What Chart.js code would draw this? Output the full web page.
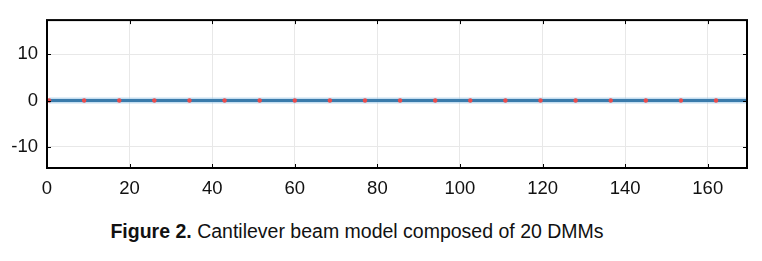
<!DOCTYPE html>
<html>
<head>
<meta charset="utf-8">
<script src="https://cdn.jsdelivr.net/npm/chart.js@4"></script>
<style>
  body { margin: 0; background: #fff; }
  #wrap { position: relative; width: 762px; height: 200px; }
  #caption {
    position: absolute; top: 220px; left: 0; width: 714px; text-align: center;
    font-family: "Liberation Sans", Arial, sans-serif; font-size: 19.5px; color: #111;
  }
</style>
</head>
<body>
<div id="wrap"><canvas id="beamChart" width="762" height="200"></canvas></div>
<div id="caption"><b>Figure 2.</b> Cantilever beam model composed of 20 DMMs</div>
<script>
// node positions along the beam (21 nodes -> 20 DMM elements)
const nodeX = [0.5, 9, 17.5, 26, 34.5, 43, 51.5, 60, 68.5, 77, 85.5, 94, 102.5, 111, 119.5, 128, 136.5, 145, 153.5, 162, 170.5];
// deflection at each node
const nodeY = [0, 0, 0, 0, 0, 0, 0, 0, 0, 0, 0, 0, 0, 0, 0, 0, 0, 0, 0, 0, 0];
const xTicks = [0, 20, 40, 60, 80, 100, 120, 140, 160];
const yTicks = [-10, 0, 10];

const points = nodeX.map((x, i) => ({ x: x, y: nodeY[i] }));

// black frame around the plot plus small inward tick marks
const framePlugin = {
    id: 'frame',
    afterDraw(chart) {
        const { ctx, chartArea: a, scales } = chart;
        ctx.save();
        ctx.strokeStyle = '#000';
        ctx.lineWidth = 1;
        xTicks.forEach(v => {
            const px = Math.round(scales.x.getPixelForValue(v)) + 0.5;
            ctx.beginPath();
            ctx.moveTo(px, a.bottom); ctx.lineTo(px, a.bottom - 4);
            ctx.moveTo(px, a.top); ctx.lineTo(px, a.top + 4);
            ctx.stroke();
        });
        yTicks.forEach(v => {
            const py = Math.round(scales.y.getPixelForValue(v)) + 0.5;
            ctx.beginPath();
            ctx.moveTo(a.left, py); ctx.lineTo(a.left + 4, py);
            ctx.moveTo(a.right, py); ctx.lineTo(a.right - 4, py);
            ctx.stroke();
        });
        ctx.lineWidth = 2;
        ctx.strokeRect(a.left, a.top, a.right - a.left, a.bottom - a.top);
        ctx.restore();
    }
};

const tickFont = { family: '"Liberation Sans", Arial, sans-serif', size: 18.5 };

new Chart(document.getElementById('beamChart').getContext('2d'), {
    type: 'line',
    data: {
        datasets: [{
            // soft halo under the beam line
            data: points,
            order: 2,
            borderColor: 'rgba(150,195,228,0.55)',
            borderWidth: 6,
            pointRadius: 0,
            tension: 0
        }, {
            data: points,
            order: 1,
            borderColor: '#3a7bab',
            borderWidth: 3,
            pointRadius: 2.2,
            pointBackgroundColor: '#ec4a4a',
            pointBorderWidth: 0,
            tension: 0
        }]
    },
    options: {
        responsive: false,
        animation: false,
        layout: { padding: { top: 19, right: 15, left: 0, bottom: 0 } },
        plugins: { legend: { display: false }, tooltip: { enabled: false } },
        scales: {
            x: {
                type: 'linear',
                min: 0,
                max: 169.5,
                afterBuildTicks: axis => { axis.ticks = xTicks.map(v => ({ value: v })); },
                afterFit: axis => { axis.height = 32; },
                grid: { color: '#e8e8e8', drawTicks: false },
                border: { display: false },
                ticks: { color: '#111', font: tickFont, padding: 10, maxRotation: 0 }
            },
            y: {
                min: -14.6,
                max: 17.4,
                afterBuildTicks: axis => { axis.ticks = yTicks.map(v => ({ value: v })); },
                afterFit: axis => { axis.width = 47; },
                grid: { color: '#e8e8e8', drawTicks: false },
                border: { display: false },
                ticks: { color: '#111', font: tickFont, padding: 9 }
            }
        }
    },
    plugins: [framePlugin]
});
</script>
</body>
</html>
